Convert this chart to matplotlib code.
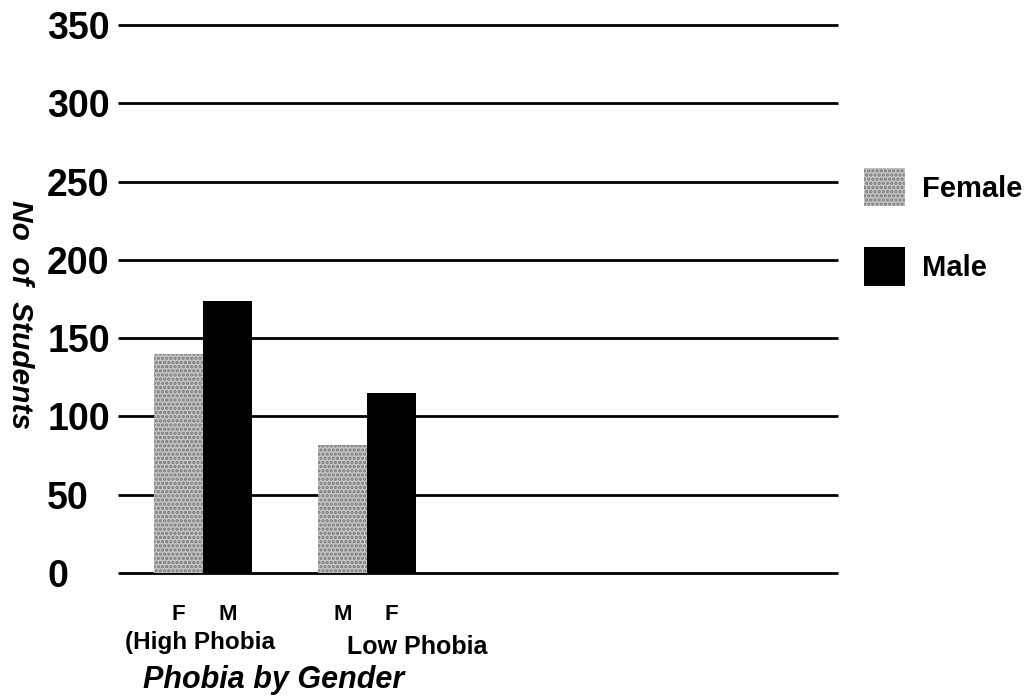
import matplotlib
matplotlib.use("Agg")
import matplotlib.pyplot as plt
import numpy as np

# Data
groups = ["(High Phobia", "Low Phobia"]
female = [140, 82]
male = [174, 115]
bar_labels = ["F", "M", "M", "F"]
y_ticks = [0, 50, 100, 150, 200, 250, 300, 350]

plt.rcParams['font.family'] = ['Liberation Sans', 'DejaVu Sans']
plt.rcParams['hatch.linewidth'] = 1.6

fig = plt.figure(figsize=(10.25, 7), dpi=100)
ax = fig.add_axes([118 / 1025, 127 / 700, 720 / 1025, 548 / 700])

x = np.arange(len(groups))
w = 0.30

# horizontal rules (not clipped so the outer ones keep full width)
ax.hlines(y_ticks, -0.518, 3.872, color='black', linewidth=2.0, zorder=1,
          clip_on=False)

ax.bar(x - w / 2, female, width=w, color='#c6c6c6', edgecolor='#777777',
       hatch='....', linewidth=0, label='Female', zorder=2)
ax.bar(x + w / 2, male, width=w, color='black', edgecolor='black',
       linewidth=0, label='Male', zorder=2)

ax.set_xlim(-0.518, 3.872)
ax.set_ylim(0, 350)
for s in ax.spines.values():
    s.set_visible(False)

ax.set_yticks(y_ticks)
ax.set_yticklabels([str(v) for v in y_ticks], fontsize=27, fontweight='bold')
ax.tick_params(axis='y', length=0, pad=51)
for lab in ax.get_yticklabels():
    lab.set_horizontalalignment('left')

pos = [x[0] - w / 2, x[0] + w / 2, x[1] - w / 2, x[1] + w / 2]
ax.set_xticks(pos)
ax.set_xticklabels(bar_labels, fontsize=16, fontweight='bold')
ax.tick_params(axis='x', length=0, pad=22)

# group names under the tick letters
fig.text(125 / 1025, 1 - 643 / 700, groups[0], fontsize=17.5, fontweight='bold',
         ha='left', va='center')
fig.text(347 / 1025, 1 - 647 / 700, groups[1], fontsize=18, fontweight='bold',
         ha='left', va='center')

fig.text(274 / 1025, 1 - 680 / 700, "Phobia by Gender", fontsize=22,
         fontweight='bold', fontstyle='italic', ha='center', va='center')
fig.text(20 / 1025, 1 - 315 / 700, "No  of  Students", fontsize=21.5,
         fontweight='bold', fontstyle='italic', rotation=270,
         ha='center', va='center')

ax.legend(loc='upper left', bbox_to_anchor=(864 / 1025, 1 - 168 / 700),
          bbox_transform=fig.transFigure, frameon=False,
          prop={'weight': 'bold', 'size': 21}, handlelength=1.4,
          handleheight=1.65, handletextpad=0.6, labelspacing=1.4,
          borderaxespad=0, borderpad=0)

fig.savefig("out.png", dpi=100)
